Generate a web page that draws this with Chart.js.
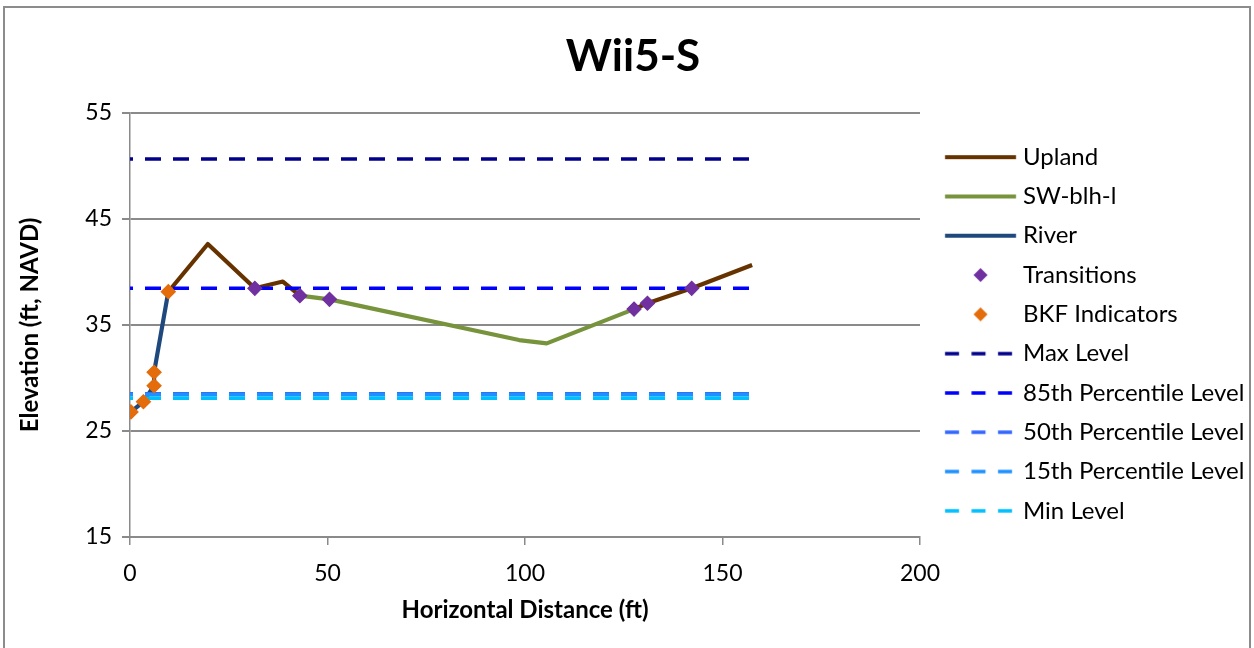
<!DOCTYPE html>
<html>
<head>
<meta charset="utf-8">
<script src="https://cdn.jsdelivr.net/npm/chart.js@4.4.1/dist/chart.umd.min.js"></script>
<style>
html,body{margin:0;padding:0;background:#ffffff;overflow:hidden;width:1254px;height:648px;}
#frame{position:absolute;left:3px;top:6px;width:1248px;height:720px;border:2px solid #8c8c8c;box-sizing:border-box;}
#wrap{position:absolute;left:0;top:0;width:1254px;height:648px;}
</style>
</head>
<body>
<div id="frame"></div>
<div id="wrap"><canvas id="c" width="1254" height="648"></canvas></div>
<script>
// ---------------- data ----------------
const chartTitle = 'Wii5-S';
const xTitle = 'Horizontal Distance (ft)';
const yTitle = 'Elevation (ft, NAVD)';
const xTicks = [0, 50, 100, 150, 200];
const yTicks = [15, 25, 35, 45, 55];

const uplandX = [9.7, 19.7, 31.6, 38.7, 43.0, 85.0, 127.6, 131.0, 142.2, 157.5];
const uplandY = [38.14, 42.64, 38.46, 39.1, 37.77, null, 36.5, 37.05, 38.46, 40.66];

const swX = [43.0, 50.5, 98.5, 105.5, 127.6];
const swY = [37.77, 37.42, 33.58, 33.27, 36.5];

const riverX = [0.25, 3.4, 6.1, 6.1, 9.7];
const riverY = [26.8, 27.76, 29.27, 30.54, 38.14];

const transX = [31.6, 43.0, 50.5, 127.6, 131.0, 142.2];
const transY = [38.46, 37.77, 37.42, 36.5, 37.05, 38.46];

const bkfX = [0.25, 3.4, 6.1, 6.1, 9.7];
const bkfY = [26.8, 27.76, 29.27, 30.54, 38.14];

const levelX = [0, 157.5];
const levelNames = ['Max Level', '85th Percentile Level', '50th Percentile Level', '15th Percentile Level', 'Min Level'];
const levelValues = [50.66, 38.46, 28.5, 28.45, 28.1];
const levelColors = ['#00008B', '#0000FF', '#3366FF', '#1E90FF', '#00BFFF'];

// ---------------- helpers ----------------
const zip = (xs, ys) => xs.map((x, i) => ({x: x, y: ys[i]}));
const FONT = 'Lato, "DejaVu Sans", sans-serif';
Chart.defaults.font.family = FONT;
Chart.defaults.color = '#000000';

const GRAY = '#8a8a8a';
const LEG_FONT = 24, LEG_PAD = 15.3, LEG_BOX = 75.7, LEG_SHIFT = 7.35;

function lineDs(label, xs, ys, color, order) {
  return {label, data: zip(xs, ys), showLine: true, borderColor: color, backgroundColor: color,
    borderWidth: 4.2, pointRadius: 0, pointHoverRadius: 0, spanGaps: false, order,
    borderJoinStyle: 'round', borderCapStyle: 'butt', _legend: {kind: 'line', color, width: 4.2, dash: []}};
}
function markerDs(label, xs, ys, color, order) {
  return {label, data: zip(xs, ys), showLine: false, borderColor: color, backgroundColor: color,
    pointStyle: 'rectRot', pointRadius: 7, pointBorderWidth: 1.2, pointHoverRadius: 7, order,
    _legend: {kind: 'diamond', color}};
}
function levelDs(label, value, color, order) {
  return {label, data: zip(levelX, levelX.map(() => value)), showLine: true, borderColor: color,
    backgroundColor: color, borderWidth: 3.6, borderDash: [16, 12], borderDashOffset: 13,
    pointRadius: 0, pointHoverRadius: 0, order, _legend: {kind: 'line', color, width: 3.6, dash: [14, 12.5]}};
}

const datasets = [
  lineDs('Upland', uplandX, uplandY, '#663300', 12),
  lineDs('SW-blh-l', swX, swY, '#77933C', 11),
  lineDs('River', riverX, riverY, '#1F497D', 10),
  markerDs('Transitions', transX, transY, '#7030A0', 1),
  markerDs('BKF Indicators', bkfX, bkfY, '#E46C0A', 0)
];
levelNames.forEach((n, i) => datasets.push(levelDs(n, levelValues[i], levelColors[i], 7 - i)));

function makeIcon(spec) {
  const c = document.createElement('canvas');
  c.width = 140; c.height = 30;
  const g = c.getContext('2d');
  const cx = 70 + LEG_SHIFT, cy = 15;
  if (spec.kind === 'line') {
    g.strokeStyle = spec.color; g.lineWidth = spec.width; g.setLineDash(spec.dash);
    g.beginPath(); g.moveTo(cx - 35.5, cy); g.lineTo(cx + 35.5, cy); g.stroke();
  } else {
    const r = 7;
    g.fillStyle = spec.color;
    g.beginPath(); g.moveTo(cx - r, cy); g.lineTo(cx, cy - r); g.lineTo(cx + r, cy); g.lineTo(cx, cy + r);
    g.closePath(); g.fill();
  }
  return c;
}
const icons = datasets.map(d => makeIcon(d._legend));

new Chart(document.getElementById('c'), {
  type: 'scatter',
  data: {datasets},
  options: {
    responsive: false,
    animation: false,
    devicePixelRatio: 1,
    layout: {padding: {top: 20, bottom: 0, left: 12, right: 0}},
    plugins: {
      tooltip: {enabled: false},
      title: {display: true, text: chartTitle, color: '#000',
        font: {family: FONT, size: 44, weight: 'bold'}, padding: {top: 10.6, bottom: 29.6}},
      legend: {
        position: 'right', fullSize: true, maxWidth: 334,
        labels: {
          usePointStyle: true, pointStyleWidth: LEG_BOX, padding: LEG_PAD, color: '#000',
          font: {family: FONT, size: LEG_FONT},
          generateLabels: (chart) => chart.data.datasets.map((d, i) => ({
            text: d.label, datasetIndex: i, pointStyle: icons[i], hidden: false,
            fillStyle: 'rgba(0,0,0,0)', strokeStyle: 'rgba(0,0,0,0)', lineWidth: 0, fontColor: '#000'
          }))
        },
        onClick: () => {}
      }
    },
    scales: {
      x: {
        type: 'linear', min: 0, max: 200,
        afterBuildTicks: s => { s.ticks = xTicks.map(v => ({value: v})); },
        afterFit: s => { s.height = 111; },
        grid: {display: true, drawOnChartArea: false, drawTicks: true, tickLength: 8, color: GRAY, lineWidth: 1.5},
        border: {display: true, color: GRAY, width: 2},
        ticks: {padding: 15.2, autoSkip: false, maxRotation: 0, color: '#000', font: {family: FONT, size: 23}},
        title: {display: true, text: xTitle, color: '#000', font: {family: FONT, size: 24, weight: 'bold'},
          padding: {top: 4, bottom: 23.6}}
      },
      y: {
        type: 'linear', min: 15, max: 55,
        afterBuildTicks: s => { s.ticks = yTicks.map(v => ({value: v})); },
        afterFit: s => { s.width = 118; },
        grid: {display: true, drawOnChartArea: true, drawTicks: true, tickLength: 8, color: GRAY, lineWidth: 2},
        border: {display: true, color: GRAY, width: 1.5},
        ticks: {padding: 10, autoSkip: false, color: '#000', font: {family: FONT, size: 23}},
        title: {display: true, text: yTitle, color: '#000', font: {family: FONT, size: 24, weight: 'bold'},
          padding: {top: 3.6, bottom: 4}}
      }
    }
  }
});
</script>
</body>
</html>
